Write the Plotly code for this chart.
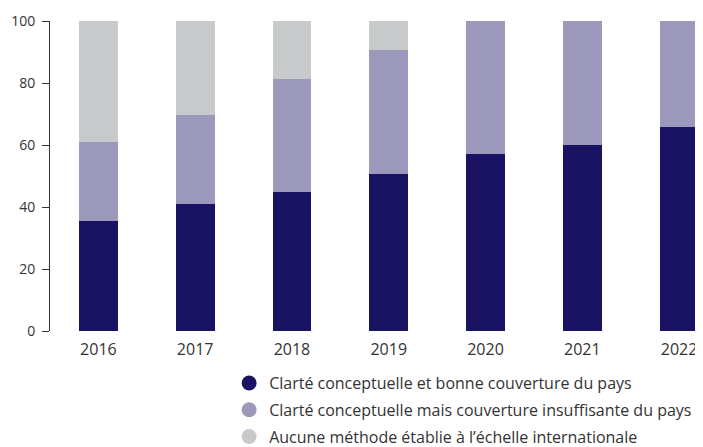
import plotly.graph_objects as go

annees = ["2016", "2017", "2018", "2019", "2020", "2021", "2022"]
bonne_couverture = [35.5, 41.1, 44.7, 50.5, 57.1, 60.0, 65.8]
couverture_insuffisante = [25.5, 28.6, 36.6, 40.1, 42.9, 40.0, 34.2]
aucune_methode = [39.0, 30.3, 18.7, 9.4, 0, 0, 0]

series = [
    ("Clarté conceptuelle et bonne couverture du pays", bonne_couverture, "#1a1363"),
    ("Clarté conceptuelle mais couverture insuffisante du pays", couverture_insuffisante, "#9c98bb"),
    ("Aucune méthode établie à l’échelle internationale", aucune_methode, "#c8c9cb"),
]

fig = go.Figure()

# barres empilées (sans légende)
for nom, valeurs, couleur in series:
    fig.add_trace(go.Bar(
        x=annees, y=valeurs, name=nom,
        marker=dict(color=couleur, line=dict(width=0)),
        width=0.4, showlegend=False,
    ))

# légende avec des pastilles rondes
for i, (nom, valeurs, couleur) in enumerate(series):
    fig.add_trace(go.Scatter(
        x=[None], y=[None], mode="markers", name=nom,
        legendgroup=f"g{i}",
        marker=dict(color=couleur, size=15, symbol="circle"),
    ))

# la page ajoute une marge de 8 px : on décale tout en conséquence
fig.update_layout(
    barmode="stack",
    width=703, height=447,
    margin=dict(l=42, r=0, t=13, b=124, autoexpand=False),
    plot_bgcolor="white", paper_bgcolor="white",
    font=dict(family="Open Sans, sans-serif", size=14, color="#333333"),
    legend=dict(
        orientation="v", x=0.271, xanchor="left", y=-0.113, yanchor="top",
        font=dict(size=16, color="#333333"),
        traceorder="grouped", tracegroupgap=3, itemsizing="trace",
        bgcolor="rgba(0,0,0,0)",
    ),
)

fig.update_xaxes(
    type="category", range=[-0.50, 6.33], automargin=False,
    showline=False, showgrid=False, ticks="",
    ticklabelstandoff=7,
    tickfont=dict(size=16),
)
fig.update_yaxes(
    range=[0, 100], tickvals=[0, 20, 40, 60, 80, 100], automargin=False,
    showline=True, linecolor="#333333", linewidth=1,
    ticks="outside", ticklen=7, tickcolor="#333333",
    ticklabelstandoff=4,
    showgrid=False, zeroline=False,
    tickfont=dict(size=14),
)

fig.write_html("out.html")
